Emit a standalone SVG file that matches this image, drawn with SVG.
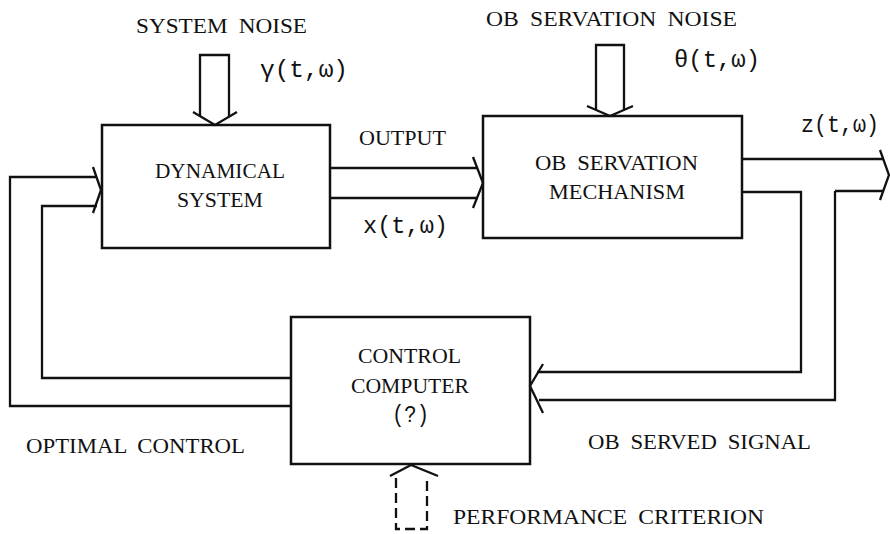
<svg xmlns="http://www.w3.org/2000/svg" width="890" height="534" viewBox="0 0 890 534">
<style>
  .ln { fill: none; stroke: #111; stroke-width: 2.3; stroke-linejoin: miter; stroke-linecap: butt; }
  .box { fill: none; stroke: #111; stroke-width: 2.5; }
  .dash { stroke-dasharray: 10 5; }
  text { font-family: "Liberation Serif", "DejaVu Serif", serif; font-size: 22px; fill: #111; word-spacing: 5px; }
  text.m { font-family: "Liberation Mono", "DejaVu Sans Mono", monospace; font-size: 23px; word-spacing: 0; }
</style>
<rect width="890" height="534" fill="#fff"/>

<g id="dynamical-system">
  <rect class="box" x="102" y="125" width="228" height="123"/>
  <text x="155" y="178" textLength="130" lengthAdjust="spacingAndGlyphs">DYNAMICAL</text>
  <text x="177" y="207" textLength="86" lengthAdjust="spacingAndGlyphs">SYSTEM</text>
</g>

<g id="observation-mechanism">
  <rect class="box" x="483" y="116" width="259" height="122"/>
  <text x="535" y="170" textLength="163" lengthAdjust="spacingAndGlyphs">OB SERVATION</text>
  <text x="549" y="199" textLength="136" lengthAdjust="spacingAndGlyphs">MECHANISM</text>
</g>

<g id="control-computer">
  <rect class="box" x="291" y="317" width="239" height="147"/>
  <text x="358" y="363" textLength="103" lengthAdjust="spacingAndGlyphs">CONTROL</text>
  <text x="351" y="393" textLength="118" lengthAdjust="spacingAndGlyphs">COMPUTER</text>
  <text class="m" x="392" y="422" textLength="37" lengthAdjust="spacingAndGlyphs">(?)</text>
</g>

<g id="connectors">
  <!-- system noise -->
  <path class="ln" d="M200,116 V55 H229 V116"/>
  <path class="ln" d="M193,112 L215,125 L237,112"/>
  <!-- observation noise -->
  <path class="ln" d="M596,110 V45 H624 V110"/>
  <path class="ln" d="M587,106 L610,116 L633,106"/>
  <!-- output x(t,w) -->
  <path class="ln" d="M330,168 H478 M330,198 H478"/>
  <path class="ln" d="M473,157 L483,183 L473,208"/>
  <!-- z(t,w) out -->
  <path class="ln" d="M742,159 H884 M835,191 H884"/>
  <path class="ln" d="M880,150 L889,175 L880,200"/>
  <!-- observed signal feedback -->
  <path class="ln" d="M742,192 H801 V372 H537"/>
  <path class="ln" d="M835,191 V400 H539"/>
  <path class="ln" d="M543,364 L530,386 L543,413"/>
  <!-- optimal control feedback -->
  <path class="ln" d="M291,378 H42 V206 H97"/>
  <path class="ln" d="M291,406 H10 V177 H96"/>
  <path class="ln" d="M93,167 L101,190 L93,213"/>
  <!-- performance criterion (dashed) -->
  <path class="ln dash" d="M396,478 V529 H427 V478"/>
  <path class="ln" d="M390,476 L411,465 L438,476"/>
</g>

<g id="labels">
  <text x="136" y="33" textLength="171" lengthAdjust="spacingAndGlyphs">SYSTEM NOISE</text>
  <text class="m" x="260" y="77" textLength="88" lengthAdjust="spacingAndGlyphs">γ(t,ω)</text>
  <text x="486" y="26" textLength="251" lengthAdjust="spacingAndGlyphs">OB SERVATION NOISE</text>
  <text class="m" x="674" y="67" textLength="86" lengthAdjust="spacingAndGlyphs">θ(t,ω)</text>
  <text x="359" y="145" textLength="87" lengthAdjust="spacingAndGlyphs">OUTPUT</text>
  <text class="m" x="363" y="233" textLength="85" lengthAdjust="spacingAndGlyphs">x(t,ω)</text>
  <text class="m" x="801" y="132" textLength="78" lengthAdjust="spacingAndGlyphs">z(t,ω)</text>
  <text x="26" y="453" textLength="219" lengthAdjust="spacingAndGlyphs">OPTIMAL CONTROL</text>
  <text x="588" y="449" textLength="223" lengthAdjust="spacingAndGlyphs">OB SERVED SIGNAL</text>
  <text x="453" y="524" textLength="311" lengthAdjust="spacingAndGlyphs">PERFORMANCE CRITERION</text>
</g>
</svg>
